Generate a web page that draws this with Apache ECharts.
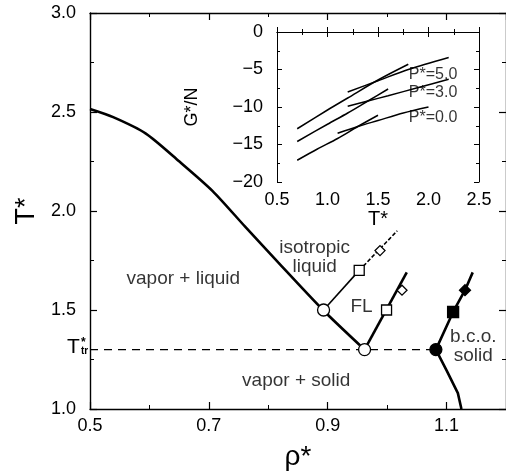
<!DOCTYPE html>
<html>
<head>
<meta charset="utf-8">
<script src="https://cdn.jsdelivr.net/npm/echarts@6/dist/echarts.min.js"></script>
<style>html,body{margin:0;padding:0;background:#fff}#c{width:506px;height:476px}</style>
</head>
<body>
<div id="c"></div>
<script>
// ---- main phase diagram data (rho*, T*) ----
const rhoVL = [0.5, 0.539, 0.594, 0.65, 0.706, 0.761, 0.817, 0.892, 0.962];
const tVL   = [2.515, 2.474, 2.391, 2.251, 2.102, 1.921, 1.739, 1.5, 1.30];
const T_TR = 1.30;
const rhoTrLine = [0.5, 1.082];
const rhoFLleftSolid = [0.893, 0.953];
const tFLleftSolid   = [1.50, 1.70];
const rhoFLleftDash  = [0.953, 1.017];
const tFLleftDash    = [1.70, 1.90];
const rhoFLright = [0.962, 1.033];
const tFLright   = [1.30, 1.69];
const rhoBCO = [1.125, 1.119, 1.10, 1.082, 1.111, 1.131, 1.144];
const tBCO   = [1.00, 1.08, 1.195, 1.30, 1.49, 1.60, 1.69];
const openCircles  = [[0.893, 1.50], [0.962, 1.30]];
const openSquares  = [[0.953, 1.70], [0.999, 1.50]];
const openDiamonds = [[0.988, 1.80], [1.025, 1.60]];
const filledCircle  = [[1.082, 1.30]];
const filledSquare  = [[1.111, 1.49]];
const filledDiamond = [[1.131, 1.60]];
const regionNames = ['vapor + liquid', 'isotropic\nliquid', 'FL', 'b.c.o.\nsolid', 'vapor + solid'];
const regionRho   = [0.657, 0.878, 0.957, 1.145, 0.847];
const regionT     = [1.658, 1.764, 1.516, 1.317, 1.145];

// ---- inset data (T*, G*/N) ----
const p5A_T = [0.7, 1.0, 1.2, 1.5, 1.8];
const p5A_G = [-12.9, -10.4, -8.8, -6.4, -4.3];
const p5B_T = [1.2, 1.5, 1.8, 2.2];
const p5B_G = [-8.0, -6.5, -5.0, -3.4];
const p3A_T = [0.7, 1.0, 1.2, 1.4, 1.6];
const p3A_G = [-14.6, -12.3, -10.8, -9.2, -7.6];
const p3B_T = [1.2, 1.4, 1.6, 1.9, 2.2];
const p3B_G = [-9.9, -9.2, -8.5, -7.4, -6.3];
const p0A_T = [0.7, 0.9, 1.1, 1.3, 1.5];
const p0A_G = [-17.1, -15.6, -14.2, -12.6, -11.1];
const p0B_T = [1.1, 1.3, 1.5, 1.75, 2.0];
const p0B_G = [-13.5, -12.6, -11.8, -10.8, -10.0];
const insetLabels = ['P*=5.0', 'P*=3.0', 'P*=0.0'];
const insetLabelT = [2.045, 2.045, 2.045];
const insetLabelG = [-5.64, -8.1, -11.44];

const FONT = '"Liberation Sans", Arial, Helvetica, sans-serif';
const zip = (a, b) => a.map((v, i) => [v, b[i]]);
const minus = v => (v < 0 ? '\u2212' + Math.abs(v) : String(v));

const chart = echarts.init(document.getElementById('c'), null, {renderer: 'canvas'});
const lineStyleAxis = {color: '#000', width: 1.4};
const txt = {color: '#000', fontFamily: FONT};

function line(data, w, dash, xi, yi) {
  return {type: 'line', xAxisIndex: xi || 0, yAxisIndex: yi || 0, data: data, showSymbol: false,
    symbol: 'none', silent: true, lineStyle: {color: '#000', width: w, type: dash || 'solid'}, z: 3};
}
function marks(data, symbol, size, fill) {
  return {type: 'scatter', xAxisIndex: 0, yAxisIndex: 0, data: data, symbol: symbol, symbolSize: size,
    silent: true, itemStyle: {color: fill, borderColor: '#000', borderWidth: 1.3, opacity: 1}, z: 5};
}

const option = {
  animation: false,
  backgroundColor: '#fff',
  grid: [
    {left: 90, top: 13, width: 420, height: 403},
    {left: 277, top: 32, width: 202, height: 150}
  ],
  xAxis: [
    {gridIndex: 0, type: 'value', position: 'bottom', min: 0.5, max: 1.2, interval: 0.2,
     axisLine: {lineStyle: lineStyleAxis}, splitLine: {show: false},
     axisTick: {inside: true, length: 7, lineStyle: {color: '#000', width: 1.2}},
     axisLabel: Object.assign({fontSize: 18, margin: 8, showMaxLabel: false, formatter: v => v.toFixed(1)}, txt),
     name: '\u03c1*', nameLocation: 'middle', nameGap: 34,
     nameTextStyle: Object.assign({fontSize: 28}, txt)},
    {gridIndex: 0, type: 'value', position: 'bottom', min: 0.5, max: 1.2, interval: 0.1,
     axisLine: {show: false}, splitLine: {show: false}, axisLabel: {show: false},
     axisTick: {inside: true, length: 4, lineStyle: {color: '#000', width: 1}}},
    {gridIndex: 0, type: 'value', position: 'top', min: 0.5, max: 1.2, interval: 0.2,
     axisLine: {lineStyle: lineStyleAxis}, splitLine: {show: false}, axisLabel: {show: false},
     axisTick: {inside: true, length: 7, lineStyle: {color: '#000', width: 1.2}}},
    {gridIndex: 0, type: 'value', position: 'top', min: 0.5, max: 1.2, interval: 0.1,
     axisLine: {show: false}, splitLine: {show: false}, axisLabel: {show: false},
     axisTick: {inside: true, length: 4, lineStyle: {color: '#000', width: 1}}},
    {gridIndex: 1, type: 'value', position: 'bottom', min: 0.5, max: 2.5, interval: 0.5,
     axisLine: {lineStyle: {color: '#000', width: 1}}, splitLine: {show: false},
     axisTick: {inside: true, length: 5, lineStyle: {color: '#000', width: 1}},
     minorTick: {show: true, splitNumber: 2, length: 3, lineStyle: {color: '#000', width: 1}},
     axisLabel: Object.assign({fontSize: 18, margin: 9, formatter: v => v.toFixed(1)}, txt),
     name: 'T*', nameLocation: 'middle', nameGap: 25,
     nameTextStyle: Object.assign({fontSize: 20}, txt)},
    {gridIndex: 1, type: 'value', position: 'top', min: 0.5, max: 2.5, interval: 0.5,
     axisLine: {lineStyle: {color: '#000', width: 1}}, splitLine: {show: false}, axisLabel: {show: false},
     axisTick: {inside: true, length: 5, lineStyle: {color: '#000', width: 1}},
     minorTick: {show: true, splitNumber: 2, length: 3, lineStyle: {color: '#000', width: 1}}}
  ],
  yAxis: [
    {gridIndex: 0, type: 'value', position: 'left', min: 1, max: 3, interval: 0.5,
     axisLine: {lineStyle: lineStyleAxis}, splitLine: {show: false},
     axisTick: {inside: true, length: 7, lineStyle: {color: '#000', width: 1.2}},
     minorTick: {show: true, splitNumber: 2, length: 4, lineStyle: {color: '#000', width: 1}},
     axisLabel: Object.assign({fontSize: 18, margin: 14, formatter: v => v.toFixed(1)}, txt),
     name: 'T*', nameLocation: 'middle', nameGap: 50, nameRotate: 90,
     nameTextStyle: Object.assign({fontSize: 27}, txt)},
    {gridIndex: 0, type: 'value', position: 'right', min: 1, max: 3, interval: 0.5,
     axisLine: {lineStyle: lineStyleAxis}, splitLine: {show: false}, axisLabel: {show: false},
     axisTick: {inside: true, length: 7, lineStyle: {color: '#000', width: 1.2}},
     minorTick: {show: true, splitNumber: 2, length: 4, lineStyle: {color: '#000', width: 1}}},
    {gridIndex: 1, type: 'value', position: 'left', min: -20, max: 0, interval: 5,
     axisLine: {lineStyle: {color: '#000', width: 1}}, splitLine: {show: false},
     axisTick: {inside: true, length: 5, lineStyle: {color: '#000', width: 1}},
     minorTick: {show: true, splitNumber: 2, length: 3, lineStyle: {color: '#000', width: 1}},
     axisLabel: Object.assign({fontSize: 18, margin: 14, formatter: minus}, txt),
     name: 'G*/N', nameLocation: 'middle', nameGap: 76, nameRotate: 90,
     nameTextStyle: Object.assign({fontSize: 18}, txt)},
    {gridIndex: 1, type: 'value', position: 'right', min: -20, max: 0, interval: 5,
     axisLine: {lineStyle: {color: '#000', width: 1}}, splitLine: {show: false}, axisLabel: {show: false},
     axisTick: {inside: true, length: 5, lineStyle: {color: '#000', width: 1}},
     minorTick: {show: true, splitNumber: 2, length: 3, lineStyle: {color: '#000', width: 1}}}
  ],
  series: [
    Object.assign(line(zip(rhoVL, tVL), 2.6), {smooth: 0.25}),
    line(zip(rhoTrLine, [T_TR, T_TR]), 1.2, [8, 6]),
    line(zip(rhoFLleftSolid, tFLleftSolid), 1.6),
    line(zip(rhoFLleftDash, tFLleftDash), 1.6, [4, 2]),
    line(zip(rhoFLright, tFLright), 2.6),
    line(zip(rhoBCO, tBCO), 2.6),
    marks(openCircles, 'circle', 12, '#fff'),
    marks(openSquares, 'rect', 10, '#fff'),
    marks(openDiamonds, 'diamond', 10, '#fff'),
    marks(filledCircle, 'circle', 12, '#000'),
    marks(filledSquare, 'rect', 11, '#000'),
    marks(filledDiamond, 'diamond', 11, '#000'),
    {type: 'scatter', xAxisIndex: 0, yAxisIndex: 0, symbolSize: 0, silent: true, z: 6,
     data: regionNames.map((n, i) => ({name: n, value: [regionRho[i], regionT[i]]})),
     label: Object.assign({show: true, position: 'inside', formatter: p => p.name, fontSize: 19,
       lineHeight: 19, align: 'center', verticalAlign: 'middle'}, txt)},
    line(zip(p5A_T, p5A_G), 1.5, null, 4, 2),
    line(zip(p5B_T, p5B_G), 1.5, null, 4, 2),
    line(zip(p3A_T, p3A_G), 1.5, null, 4, 2),
    line(zip(p3B_T, p3B_G), 1.5, null, 4, 2),
    line(zip(p0A_T, p0A_G), 1.5, null, 4, 2),
    line(zip(p0B_T, p0B_G), 1.5, null, 4, 2),
    {type: 'scatter', xAxisIndex: 4, yAxisIndex: 2, symbolSize: 0, silent: true, z: 6,
     data: insetLabels.map((n, i) => ({name: n, value: [insetLabelT[i], insetLabelG[i]]})),
     label: Object.assign({show: true, position: 'inside', formatter: p => p.name, fontSize: 16,
       align: 'center', verticalAlign: 'middle'}, txt)}
  ]
};
option.series.slice(13, 19).forEach(s => { s.smooth = 0.3; });
chart.setOption(option);

// T_tr* label on the left of the main axis
const yTr = chart.convertToPixel({yAxisIndex: 0}, T_TR);
chart.setOption({graphic: [
  {type: 'text', left: 67, top: yTr - 13, silent: true,
   style: {text: 'T', font: '21px ' + FONT, fill: '#000'}},
  {type: 'text', left: 81, top: yTr - 13, silent: true,
   style: {text: '*', font: 'bold 12px ' + FONT, fill: '#000'}},
  {type: 'text', left: 81, top: yTr - 3, silent: true,
   style: {text: 'tr', font: 'bold 10px ' + FONT, fill: '#000'}}
]});
</script>
</body>
</html>
